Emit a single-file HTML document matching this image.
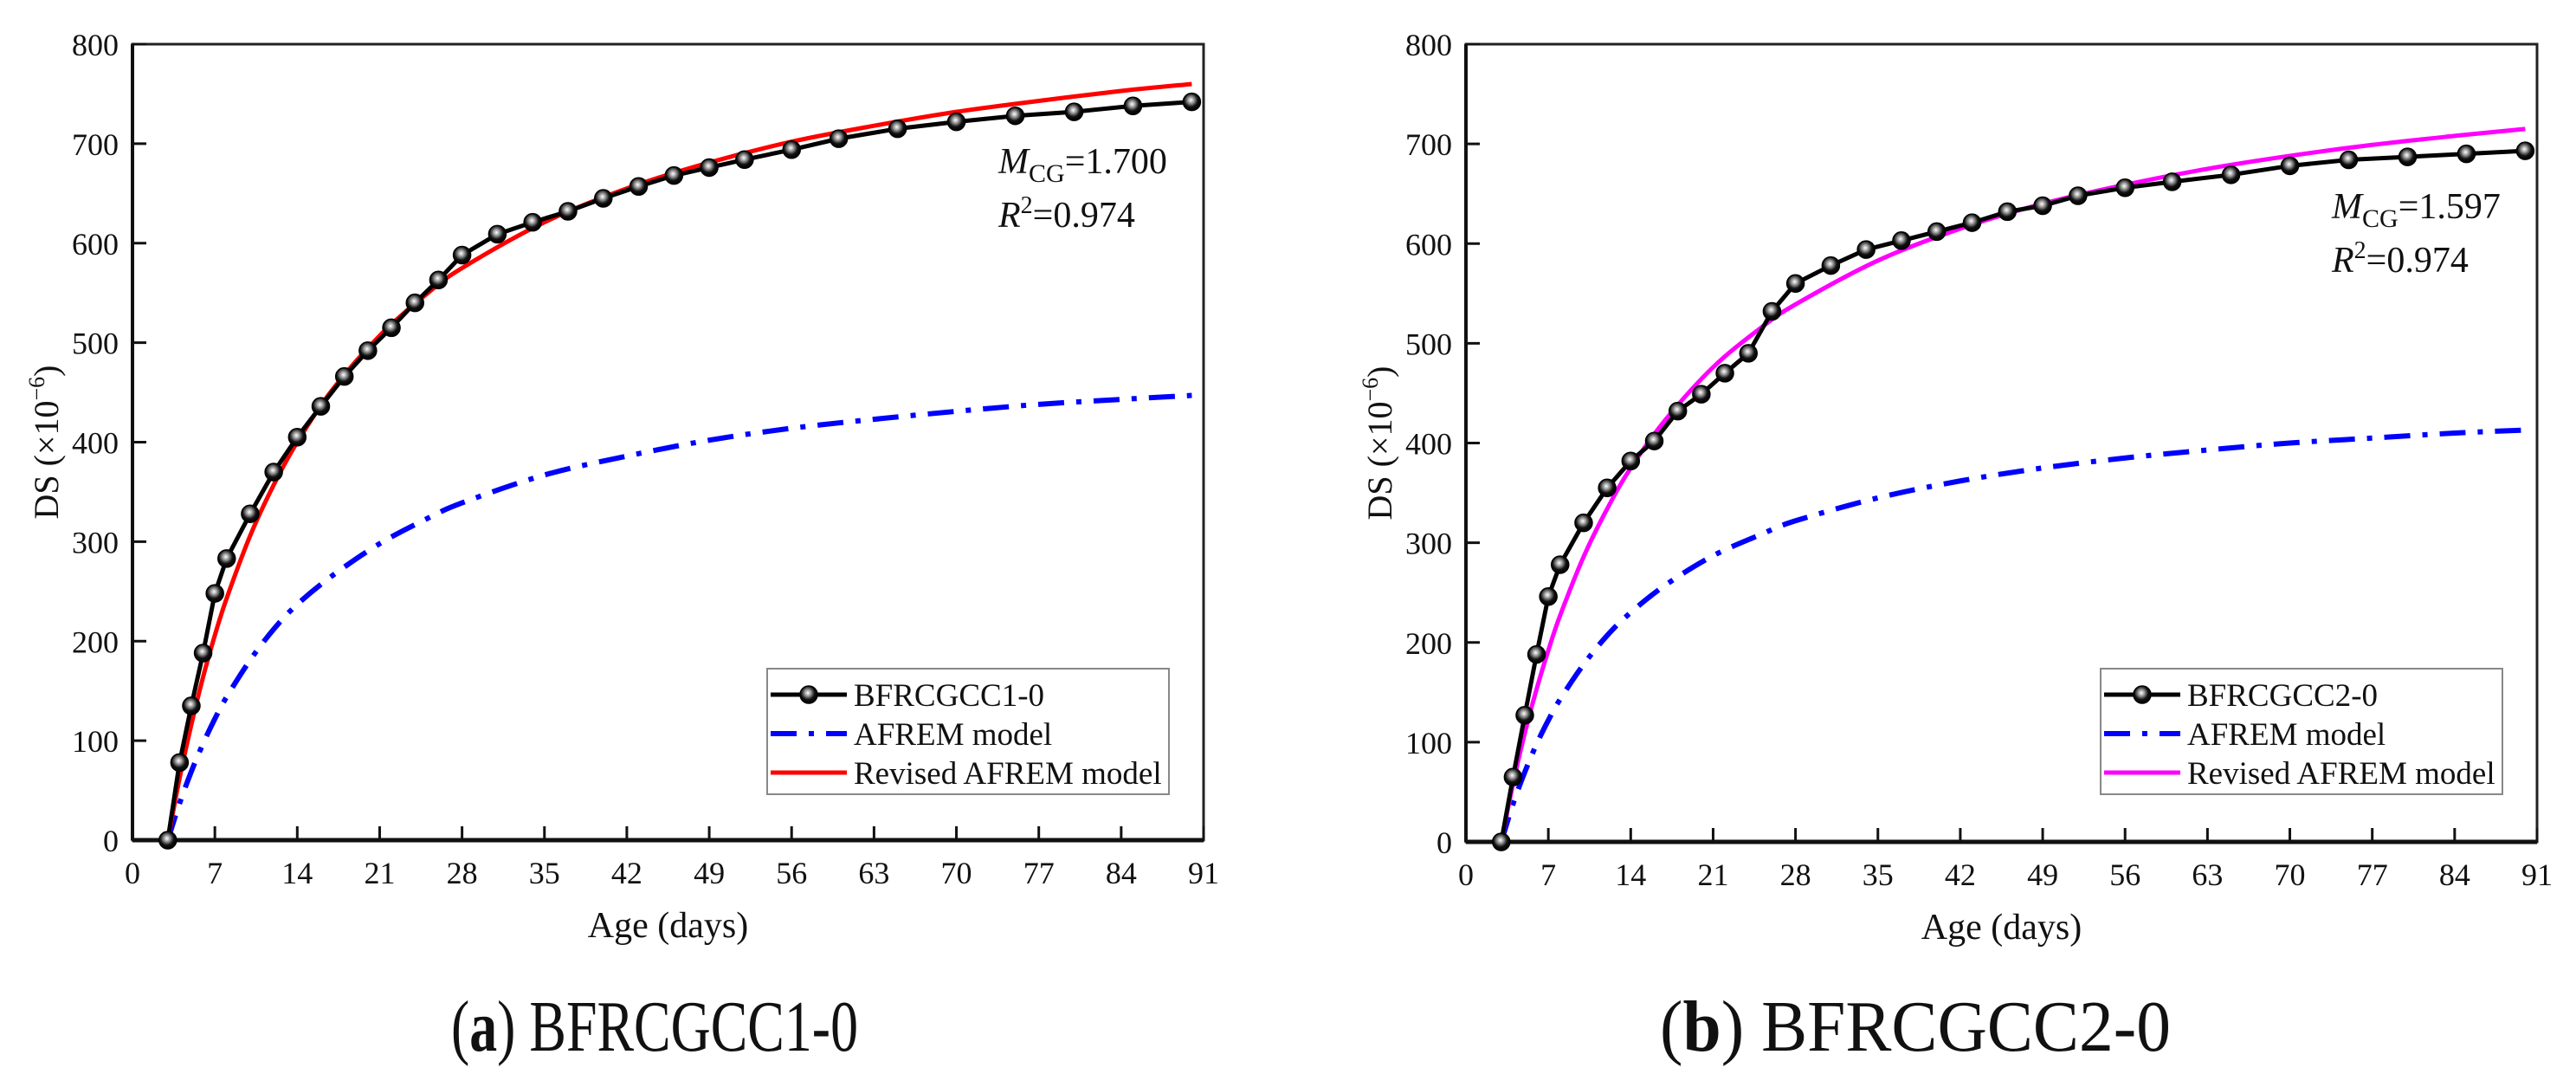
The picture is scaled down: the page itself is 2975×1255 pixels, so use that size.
<!DOCTYPE html>
<html><head><meta charset="utf-8">
<style>
html,body{margin:0;padding:0;background:#fff;}
svg{display:block;}
text{font-family:"Liberation Serif","Times New Roman",serif;fill:#111;}
</style></head>
<body>
<svg id="fig" width="2975" height="1255" viewBox="0 0 2975 1255" xmlns="http://www.w3.org/2000/svg">
<defs>
<radialGradient id="ball" cx="0.45" cy="0.4" r="0.6">
<stop offset="0" stop-color="#fff"/><stop offset="0.3" stop-color="#999"/><stop offset="0.65" stop-color="#111"/><stop offset="1" stop-color="#000"/>
</radialGradient>
</defs>
<g id="chartA"></g>
<g id="chartB"></g>
<text x="756" y="1213" font-size="84" text-anchor="middle" textLength="470" lengthAdjust="spacingAndGlyphs">(<tspan font-weight="bold">a</tspan>) BFRCGCC1-0</text>
<text x="2212" y="1213" font-size="84" text-anchor="middle" textLength="590" lengthAdjust="spacingAndGlyphs">(<tspan font-weight="bold">b</tspan>) BFRCGCC2-0</text>
</svg>
<script>
const xTicks = [0,7,14,21,28,35,42,49,56,63,70,77,84,91];
const yTicks = [0,100,200,300,400,500,600,700,800];
const expDays = [3,4,5,6,7,8,10,12,14,16,18,20,22,24,26,28,31,34,37,40,43,46,49,52,56,60,65,70,75,80,85,90];
const expA = [0,78,135,188,248,283,328,370,405,436,466,492,515,540,563,588,609,621,632,645,657,668,676,684,694,705,715,722,728,732,738,742];
const expB = [0,65,127,188,246,278,320,355,382,402,432,449,470,490,532,560,578,594,603,612,621,632,638,648,656,662,669,678,684,687,690,693];
const modelDays = [3,4,5,6,7,8,10,12,14,17,21,25,28,35,42,49,56,63,70,77,84,90];
const revA = [0,62,116,164,206,243,306,357,400,453,507,549,575,621,655,681,702,718,732,743,753,760];
const afremA = [0,37,69,97,122,144,181,212,237,266,298,323,339,367,386,402,414,423,431,438,443,447];
const revB = [0,58,109,153,192,227,286,334,375,424,476,515,539,583,615,640,659,675,688,699,708,715];
const afremB = [0,38,70,98,122,143,178,207,230,258,287,308,322,345,362,375,385,393,400,405,410,413];
const NS = 'http://www.w3.org/2000/svg';

function mk(parent, tag, attrs){
  const e = document.createElementNS(NS, tag);
  for (const k in attrs) e.setAttribute(k, attrs[k]);
  parent.appendChild(e);
  return e;
}
function smoothPath(pts){
  let d = 'M' + pts[0][0] + ',' + pts[0][1];
  for (let i = 0; i < pts.length - 1; i++){
    const p0 = pts[Math.max(i-1,0)], p1 = pts[i], p2 = pts[i+1], p3 = pts[Math.min(i+2,pts.length-1)];
    const c1x = p1[0] + (p2[0]-p0[0])/6, c1y = p1[1] + (p2[1]-p0[1])/6;
    const c2x = p2[0] - (p3[0]-p1[0])/6, c2y = p2[1] - (p3[1]-p1[1])/6;
    d += ' C' + c1x + ',' + c1y + ' ' + c2x + ',' + c2y + ' ' + p2[0] + ',' + p2[1];
  }
  return d;
}

function drawChart(g, x0, x1, y0, y1, expVals, afVals, revVals, revColor, seriesName, mcg, annY){
  const sx = v => x0 + (v/91)*(x1-x0);
  const sy = v => y0 - (v/800)*(y0-y1);
  const frame = mk(g,'rect',{x:x0,y:y1,width:x1-x0,height:y0-y1,fill:'none',stroke:'#222','stroke-width':3});
  
  
  const xaxis = mk(g,'line',{x1:x0,y1:y0,x2:x1,y2:y0,stroke:'#111','stroke-width':5});
  
  
  const yaxis = mk(g,'line',{x1:x0,y1:y0,x2:x0,y2:y1,stroke:'#111','stroke-width':4});
  
  
  xTicks.forEach(t => {
    const tk = mk(g,'line',{x1:sx(t),y1:y0,x2:sx(t),y2:y0-16,stroke:'#111','stroke-width':3});
    
    
    const lb = mk(g,'text',{x:sx(t),y:y0+50,'font-size':36,'text-anchor':'middle'});
    lb.textContent = t;
    
    
  });
  yTicks.forEach(t => {
    const tk = mk(g,'line',{x1:x0,y1:sy(t),x2:x0+16,y2:sy(t),stroke:'#111','stroke-width':3});
    
    
    const lb = mk(g,'text',{x:x0-16,y:sy(t)+13,'font-size':36,'text-anchor':'end'});
    lb.textContent = t;
    
    
  });
  const yt = mk(g,'text',{x:0,y:0,'font-size':40,'text-anchor':'middle',transform:'translate('+(x0-86)+','+((y0+y1)/2)+') rotate(-90)'});
  yt.innerHTML = 'DS (×10<tspan dy="-16" font-size="26">−6</tspan><tspan dy="16">)</tspan>';
  
  
  const xt = mk(g,'text',{x:(x0+x1)/2,y:y0+112,'font-size':42,'text-anchor':'middle'});
  xt.textContent = 'Age (days)';
  
  

  const af = mk(g,'path',{d:smoothPath(modelDays.map((d,i)=>[sx(d),sy(afVals[i])])),fill:'none',stroke:'#0000ff','stroke-width':6,'stroke-dasharray':'30 14 6 14'});
  
  
  const rv = mk(g,'path',{d:smoothPath(modelDays.map((d,i)=>[sx(d),sy(revVals[i])])),fill:'none',stroke:revColor,'stroke-width':5});
  
  
  const ex = mk(g,'polyline',{points:expDays.map((d,i)=>sx(d)+','+sy(expVals[i])).join(' '),fill:'none',stroke:'#000','stroke-width':5});
  
  
  expDays.forEach((d,i) => {
    const c = mk(g,'circle',{cx:sx(d),cy:sy(expVals[i]),r:10,fill:'url(#ball)',stroke:'#000','stroke-width':1.5});
    
    
  });

  const a1 = mk(g,'text',{x:x0+1000,y:annY,'font-size':42});
  a1.innerHTML = '<tspan font-style="italic">M</tspan><tspan dy="10" font-size="30">CG</tspan><tspan dy="-10">=' + mcg + '</tspan>';
  
  
  const a2 = mk(g,'text',{x:x0+1000,y:annY+62,'font-size':42});
  a2.innerHTML = '<tspan font-style="italic">R</tspan><tspan dy="-16" font-size="28">2</tspan><tspan dy="16">=0.974</tspan>';
  
  

  const lx = x0 + 733, ly = 772, lw = 464, lh = 145;
  const lg = mk(g,'g',{});
  
  
  mk(lg,'rect',{x:lx,y:ly,width:lw,height:lh,fill:'#fff',stroke:'#888','stroke-width':2});
  const rows = [ly+30, ly+75, ly+120];
  const l1 = mk(lg,'line',{x1:lx+4,y1:rows[0],x2:lx+92,y2:rows[0],stroke:'#000','stroke-width':5});
  
  
  mk(lg,'circle',{cx:lx+48,cy:rows[0],r:10,fill:'url(#ball)',stroke:'#000','stroke-width':1.5});
  const l2 = mk(lg,'line',{x1:lx+4,y1:rows[1],x2:lx+92,y2:rows[1],stroke:'#0000ff','stroke-width':6,'stroke-dasharray':'30 14 6 14'});
  
  
  const l3 = mk(lg,'line',{x1:lx+4,y1:rows[2],x2:lx+92,y2:rows[2],stroke:revColor,'stroke-width':5});
  
  
  const labels = [seriesName,'AFREM model','Revised AFREM model'];
  labels.forEach((s,i) => {
    const t = mk(lg,'text',{x:lx+100,y:rows[i]+13,'font-size':37});
    t.textContent = s;
    
    
  });
}
drawChart(document.getElementById('chartA'), 153, 1390, 970, 51, expA, afremA, revA, '#ff0000', 'BFRCGCC1-0', '1.700', 200);
drawChart(document.getElementById('chartB'), 1693, 2930, 972, 51, expB, afremB, revB, '#ff00ff', 'BFRCGCC2-0', '1.597', 252);
</script>
</body></html>
